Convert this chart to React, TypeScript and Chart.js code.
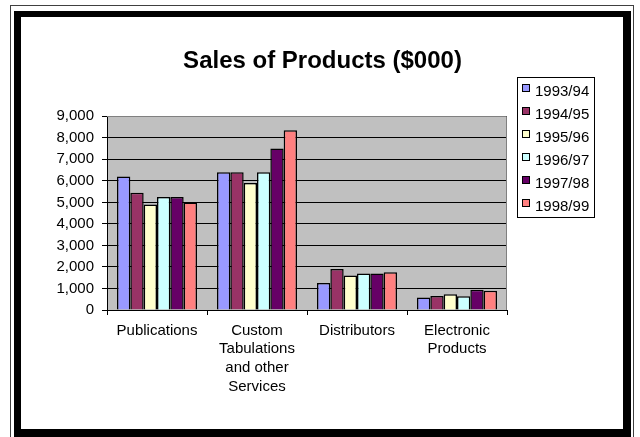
import React, { useEffect, useRef } from "react";
import { Chart, registerables } from "chart.js";

Chart.register(...registerables);

const categories: string[][] = [
  ["Publications"],
  ["Custom", "Tabulations", "and other", "Services"],
  ["Distributors"],
  ["Electronic", "Products"],
];
const seriesLabels = ["1993/94", "1994/95", "1995/96", "1996/97", "1997/98", "1998/99"];
const sales9394 = [6200, 6400, 1250, 580];
const sales9495 = [5450, 6400, 1900, 650];
const sales9596 = [4900, 5900, 1600, 730];
const sales9697 = [5250, 6400, 1700, 640];
const sales9798 = [5250, 7500, 1700, 940];
const sales9899 = [5000, 8350, 1750, 900];
const seriesValues = [sales9394, sales9495, sales9596, sales9697, sales9798, sales9899];
const seriesColors = ["#9999FF", "#993366", "#FFFFCC", "#CCFFFF", "#660066", "#FF8080"];
const yMin = 0;
const yMax = 9000;
const yStep = 1000;
const titleText = "Sales of Products ($000)";

const FONT = "'Liberation Sans', Arial, sans-serif";

const decorPlugin = {
  id: "decor",
  beforeDraw(chart: any) {
    const { ctx, chartArea } = chart;
    ctx.save();
    ctx.fillStyle = "#FFFFFF";
    ctx.fillRect(0, 0, chart.width, chart.height);
    // outer thin line
    ctx.strokeStyle = "#404040";
    ctx.lineWidth = 1;
    ctx.strokeRect(10.5, 5.5, 623, 440);
    // thick frame
    ctx.fillStyle = "#000000";
    ctx.fillRect(14, 11, 617, 432);
    ctx.fillStyle = "#FFFFFF";
    ctx.fillRect(21, 17, 602, 412);
    // plot background
    ctx.fillStyle = "#C0C0C0";
    ctx.fillRect(chartArea.left, chartArea.top, chartArea.right - chartArea.left, chartArea.bottom - chartArea.top);
    ctx.restore();
  },
  beforeDatasetsDraw(chart: any) {
    const { ctx, chartArea } = chart;
    ctx.save();
    ctx.strokeStyle = "#808080";
    ctx.lineWidth = 1;
    ctx.beginPath();
    ctx.moveTo(chartArea.left, Math.round(chartArea.top) + 0.5);
    ctx.lineTo(Math.round(chartArea.right) - 0.5, Math.round(chartArea.top) + 0.5);
    ctx.lineTo(Math.round(chartArea.right) - 0.5, chartArea.bottom);
    ctx.stroke();
    ctx.restore();
  },
  afterDraw(chart: any) {
    const { ctx } = chart;
    const ds = chart.data.datasets;
    ctx.save();
    ctx.strokeStyle = "#000000";
    ctx.lineWidth = 1;
    ctx.strokeRect(517.5, 77.5, 77, 140);
    ctx.font = `15px ${FONT}`;
    ctx.textBaseline = "middle";
    ctx.textAlign = "left";
    for (let i = 0; i < ds.length; i++) {
      const cy = 92 + 23 * i;
      ctx.fillStyle = ds[i].backgroundColor;
      ctx.fillRect(522, cy - 8, 8, 8);
      ctx.strokeStyle = "#000000";
      ctx.strokeRect(522.5, cy - 7.5, 7, 7);
      ctx.fillStyle = "#000000";
      ctx.fillText(ds[i].label, 535, cy);
    }
    ctx.restore();
  },
};

export default function App() {
  const ref = useRef<HTMLCanvasElement | null>(null);
  useEffect(() => {
    if (!ref.current) return;
    Chart.defaults.font.family = FONT;
    Chart.defaults.color = "#000000";
    const chart = new Chart(ref.current, {
      type: "bar",
      data: {
        labels: categories,
        datasets: seriesLabels.map((label, i) => ({
          label,
          data: seriesValues[i],
          backgroundColor: seriesColors[i],
          borderColor: "#000000",
          borderWidth: 1.5,
          categoryPercentage: 0.8,
          barPercentage: 1.0,
        })),
      },
      options: {
        animation: false,
        responsive: false,
        devicePixelRatio: 1,
        layout: { padding: { left: 5, right: 0, top: 0, bottom: 0 } },
        plugins: {
          legend: { display: false },
          tooltip: { enabled: false },
          title: {
            display: true,
            text: titleText,
            color: "#000000",
            font: { size: 24, weight: "bold", family: FONT, lineHeight: 1.2 },
            padding: { top: 47, bottom: 40.5 },
          },
        },
        scales: {
          x: {
            grid: { drawOnChartArea: false, drawTicks: true, tickLength: 5, color: "#000000", offset: true },
            border: { display: true, color: "#000000", width: 1 },
            ticks: { font: { size: 15, family: FONT, lineHeight: 1.25 }, color: "#000000", padding: 6, maxRotation: 0, autoSkip: false },
            afterFit: (s: any) => { s.height = 127; },
          },
          y: {
            min: yMin,
            max: yMax,
            grid: { color: "#000000", lineWidth: 1, drawTicks: true, tickLength: 5 },
            border: { display: true, color: "#000000", width: 1 },
            ticks: {
              stepSize: yStep,
              font: { size: 15, family: FONT },
              color: "#000000",
              padding: 8,
              callback: (v: any) => Number(v).toLocaleString("en-US"),
            },
            afterFit: (s: any) => { s.width = 102; },
          },
          y2: {
            position: "right",
            display: true,
            grid: { display: false, drawTicks: false },
            border: { display: false },
            ticks: { display: false },
            afterFit: (s: any) => { s.width = 133; },
          },
        },
      } as any,
      plugins: [decorPlugin],
    });
    return () => chart.destroy();
  }, []);
  return (
    <canvas
      ref={ref}
      width={640}
      height={437}
      style={{ position: "absolute", left: 0, top: 0, display: "block", width: 640, height: 437 }}
    />
  );
}
